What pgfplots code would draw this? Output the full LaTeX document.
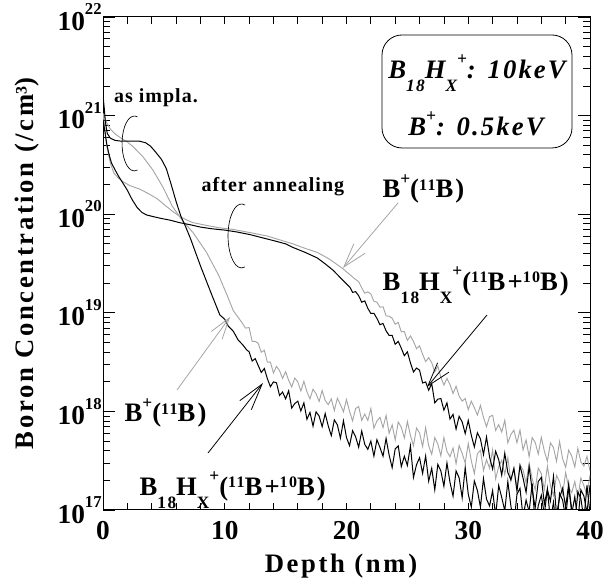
\documentclass[border=0pt]{standalone}
\usepackage{fontspec}
\setmainfont{Liberation Serif}
\newfontfamily\lsfont{Liberation Serif}[LetterSpace=8]
\newfontfamily\labfont{Liberation Serif}[LetterSpace=10]
\newfontfamily\anfont{Liberation Serif}[LetterSpace=5]
\usepackage{pgfplots}
\usepackage{pgfplotstable}
\pgfplotsset{compat=1.18}
\usetikzlibrary{arrows.meta}
\definecolor{lgray}{RGB}{165,165,165}
\newcommand{\supp}[1]{\raisebox{0.5em}{\fontsize{13}{13}\selectfont #1}}
\newcommand{\sups}[1]{\raisebox{0.28em}{\fontsize{12}{12}\selectfont #1}}
\newcommand{\subs}[1]{\raisebox{-0.5em}{\fontsize{13}{13}\selectfont #1}}
\newcommand{\tsup}[1]{\raisebox{0.56em}{\fontsize{12.5}{12.5}\selectfont #1}}

% B18Hx+, as implanted (black)
\pgfplotstableread[row sep=\\]{
x y\\
0 1.6e21\\ 0.1 1.2e21\\ 0.2 8.5e20\\ 0.35 6.6e20\\ 0.6 5.9e20\\ 1.0 5.6e20\\
1.5 5.5e20\\ 2.2 5.5e20\\ 3.0 5.5e20\\ 3.5 5.3e20\\ 3.9 4.9e20\\ 4.3 4.3e20\\
4.8 3.6e20\\ 5.2 2.9e20\\ 5.6 2.0e20\\ 6.0 1.35e20\\ 6.4 9.5e19\\ 6.8 7.4e19\\
7.2 5.6e19\\ 8.0 3.0e19\\ 9.0 1.45e19\\ 9.6 9.5e18\\ 10.0 8.6e18\\ 10.3 7.3e18\\
10.7 6.5e18\\ 11.1 5.3e18\\ 11.5 4.7e18\\ 11.8 4.2e18\\
12.00 4.03e18\\ 12.25 3.24e18\\ 12.50 3.43e18\\ 12.75 2.92e18\\ 13.00 2.48e18\\ 13.25 2.72e18\\
13.50 2.15e18\\ 13.75 1.78e18\\ 14.00 1.99e18\\ 14.25 1.95e18\\ 14.50 1.45e18\\ 14.75 1.57e18\\
15.00 1.34e18\\ 15.25 1.62e18\\ 15.50 1.08e18\\ 15.75 1.20e18\\ 16.00 1.27e18\\ 16.25 1.01e18\\
16.50 1.22e18\\ 16.75 8.32e17\\ 17.00 9.77e17\\ 17.25 7.08e17\\ 17.50 9.9e17\\ 17.75 8.97e17\\
18.00 7.0e17\\ 18.25 9.5e17\\ 18.50 7.13e17\\ 18.75 5.68e17\\ 19.00 8.2e17\\ 19.25 7.3e17\\
19.50 5.35e17\\ 19.75 8.04e17\\ 20.00 5.42e17\\ 20.25 4.49e17\\ 20.50 6.38e17\\ 20.75 5.52e17\\
21.00 4.33e17\\ 21.25 6.32e17\\ 21.50 4.63e17\\ 21.75 4.12e17\\ 22.00 5.0e17\\ 22.25 3.52e17\\
22.50 5.16e17\\ 22.75 4.3e17\\ 23.00 3.51e17\\ 23.25 5.32e17\\ 23.50 3.61e17\\ 23.75 2.69e17\\
24.00 4.17e17\\ 24.25 4.47e17\\ 24.50 2.75e17\\ 24.75 3.51e17\\ 25.00 2.83e17\\ 25.25 4.47e17\\
25.50 2.14e17\\ 25.75 2.88e17\\ 26.00 3.39e17\\ 26.25 2.35e17\\ 26.50 3.53e17\\ 26.75 1.96e17\\
27.00 2.65e17\\ 27.25 1.6e17\\ 27.50 2.9e17\\ 27.75 2.49e17\\ 28.00 1.74e17\\ 28.25 3.0e17\\
28.50 1.91e17\\ 28.75 1.38e17\\ 29.00 2.49e17\\ 29.25 2.12e17\\ 29.50 1.33e17\\ 29.75 2.69e17\\
30.00 1.45e17\\ 30.25 1.07e17\\ 30.50 1.97e17\\ 30.75 1.58e17\\ 31.00 1.07e17\\ 31.25 2.09e17\\
31.50 1.29e17\\ 31.75 1.1e17\\ 32.00 1.57e17\\ 32.25 0.88e17\\ 32.50 1.77e17\\ 32.75 1.34e17\\
33.00 0.98e17\\ 33.25 1.94e17\\ 33.50 1.1e17\\ 33.75 0.72e17\\ 34.00 1.44e17\\ 34.25 1.66e17\\
34.50 0.85e17\\ 34.75 1.26e17\\ 35.00 0.96e17\\ 35.25 1.86e17\\ 35.50 0.70e17\\ 35.75 1.11e17\\
36.00 1.41e17\\ 36.25 0.9e17\\ 36.50 1.64e17\\ 36.75 0.77e17\\ 37.00 1.2e17\\ 37.25 0.65e17\\
37.50 1.47e17\\ 37.75 1.26e17\\ 38.00 0.83e17\\ 38.25 1.69e17\\ 38.50 1.02e17\\ 38.75 0.71e17\\
39.00 1.53e17\\ 39.25 1.31e17\\ 39.50 0.79e17\\ 39.75 1.78e17\\ 40.00 0.92e17\\
}\bhimpl

% B+, as implanted (gray)
\pgfplotstableread[row sep=\\]{
x y\\
0 1.05e21\\ 0.3 8.5e20\\ 0.6 7.3e20\\ 1.0 6.5e20\\ 1.4 6.0e20\\ 2.0 5.4e20\\
2.5 4.8e20\\ 3.3 3.8e20\\ 4.1 2.8e20\\ 4.9 1.9e20\\ 5.7 1.2e20\\ 6.5 8.7e19\\
7.4 6.5e19\\ 8.5 4.1e19\\ 9.5 2.4e19\\ 10.2 1.5e19\\ 10.7 1.05e19\\ 11.4 8.0e18\\
11.7 7.0e18\\
12.00 7.08e18\\ 12.25 5.13e18\\ 12.50 5.13e18\\ 12.75 4.9e18\\ 13.00 3.98e18\\ 13.25 4.17e18\\
13.50 3.16e18\\ 13.75 3.16e18\\ 14.00 2.45e18\\ 14.25 2.86e18\\ 14.50 2.59e18\\ 14.75 2.16e18\\
15.00 2.53e18\\ 15.25 2.06e18\\ 15.50 1.77e18\\ 15.75 2.18e18\\ 16.00 1.99e18\\ 16.25 1.61e18\\
16.50 2.02e18\\ 16.75 1.58e18\\ 17.00 1.34e18\\ 17.25 1.68e18\\ 17.50 1.51e18\\ 17.75 1.26e18\\
18.00 1.63e18\\ 18.25 1.29e18\\ 18.50 1.17e18\\ 18.75 1.34e18\\ 19.00 1.02e18\\ 19.25 1.36e18\\
19.50 1.17e18\\ 19.75 9.9e17\\ 20.00 1.32e18\\ 20.25 1.0e18\\ 20.50 8.0e17\\ 20.75 1.07e18\\
21.00 1.12e18\\ 21.25 8.1e17\\ 21.50 9.4e17\\ 21.75 8.1e17\\ 22.00 1.07e18\\ 22.25 6.76e17\\
22.50 8.0e17\\ 22.75 8.7e17\\ 23.00 6.85e17\\ 23.25 9.1e17\\ 23.50 6.0e17\\ 23.75 7.3e17\\
24.00 5.13e17\\ 24.25 7.8e17\\ 24.50 6.93e17\\ 24.75 5.37e17\\ 25.00 7.9e17\\ 25.25 5.71e17\\
25.50 4.48e17\\ 25.75 6.78e17\\ 26.00 6.05e17\\ 26.25 4.39e17\\ 26.50 6.84e17\\ 26.75 4.48e17\\
27.00 3.66e17\\ 27.25 5.43e17\\ 27.50 4.66e17\\ 27.75 3.54e17\\ 28.00 5.42e17\\ 28.25 3.93e17\\
28.50 3.47e17\\ 28.75 4.26e17\\ 29.00 2.94e17\\ 29.25 4.51e17\\ 29.50 3.75e17\\ 29.75 2.99e17\\
30.00 4.73e17\\ 30.25 3.16e17\\ 30.50 2.34e17\\ 30.75 3.72e17\\ 31.00 4.03e17\\ 31.25 2.51e17\\
31.50 3.24e17\\ 31.75 2.66e17\\ 32.00 4.07e17\\ 32.25 2.07e17\\ 32.50 2.75e17\\ 32.75 3.2e17\\
33.00 2.29e17\\ 33.25 3.39e17\\ 33.50 1.97e17\\ 33.75 2.63e17\\ 34.00 1.7e17\\ 34.25 2.88e17\\
34.50 2.54e17\\ 34.75 1.88e17\\ 35.00 2.99e17\\ 35.25 2.07e17\\ 35.50 1.6e17\\ 35.75 2.66e17\\
36.00 2.34e17\\ 36.25 1.62e17\\ 36.50 2.79e17\\ 36.75 1.76e17\\ 37.00 1.4e17\\ 37.25 2.24e17\\
37.50 1.93e17\\ 37.75 1.45e17\\ 38.00 2.4e17\\ 38.25 1.68e17\\ 38.50 1.5e17\\ 38.75 1.95e17\\
39.00 1.32e17\\ 39.25 2.11e17\\ 39.50 1.76e17\\ 39.75 1.41e17\\ 40.00 2.26e17\\
}\bimpl

% B18Hx+, after annealing (black)
\pgfplotstableread[row sep=\\]{
x y\\
0 9.0e20\\ 0.15 7.0e20\\ 0.3 5.2e20\\ 0.5 4.0e20\\ 0.7 3.3e20\\ 1.0 2.8e20\\
1.3 2.4e20\\ 1.6 2.1e20\\ 2.0 1.75e20\\ 2.4 1.4e20\\ 2.8 1.17e20\\ 3.2 1.04e20\\
3.6 9.8e19\\ 4.2 9.4e19\\ 4.7 9.1e19\\ 5.5 8.7e19\\ 6.3 8.2e19\\ 7.2 7.8e19\\
8.0 7.4e19\\ 9.0 7.1e19\\ 10.0 6.9e19\\ 11.0 6.6e19\\ 12.1 6.2e19\\ 13.0 5.8e19\\
14.0 5.4e19\\ 15.0 5.0e19\\ 15.6 4.6e19\\ 16.6 4.1e19\\ 17.6 3.6e19\\ 18.3 3.1e19\\
18.9 2.7e19\\ 19.6 2.2e19\\ 20.3 1.8e19\\
20.50 1.61e19\\ 20.75 1.64e19\\ 21.00 1.49e19\\ 21.25 1.28e19\\ 21.50 1.32e19\\ 21.75 1.11e19\\
22.00 9.84e18\\ 22.25 9.89e18\\ 22.50 8.77e18\\ 22.75 7.57e18\\ 23.00 7.8e18\\ 23.25 6.56e18\\
23.50 5.89e18\\ 23.75 5.89e18\\ 24.00 4.79e18\\ 24.25 5.13e18\\ 24.50 4.37e18\\ 24.75 3.67e18\\
25.00 4.02e18\\ 25.25 3.11e18\\ 25.50 2.51e18\\ 25.75 2.75e18\\ 26.00 2.62e18\\ 26.25 1.94e18\\
26.50 1.99e18\\ 26.75 1.64e18\\ 27.00 1.91e18\\ 27.25 1.22e18\\ 27.50 1.33e18\\ 27.75 1.35e18\\
28.00 1.03e18\\ 28.25 1.22e18\\ 28.50 8.36e17\\ 28.75 9.33e17\\ 29.00 6.61e17\\ 29.25 8.91e17\\
29.50 7.82e17\\ 29.75 5.96e17\\ 30.00 8.09e17\\ 30.25 5.73e17\\ 30.50 4.36e17\\ 30.75 6.08e17\\
31.00 5.27e17\\ 31.25 3.65e17\\ 31.50 5.5e17\\ 31.75 3.45e17\\ 32.00 2.6e17\\ 32.25 3.94e17\\
32.50 3.24e17\\ 32.75 2.25e17\\ 33.00 3.77e17\\ 33.25 2.4e17\\ 33.50 2.02e17\\ 33.75 2.65e17\\
34.00 1.55e17\\ 34.25 2.82e17\\ 34.50 2.11e17\\ 34.75 1.51e17\\ 35.00 2.75e17\\ 35.25 1.6e17\\
35.50 1.06e17\\ 35.75 1.95e17\\ 36.00 2.14e17\\ 36.25 1.15e17\\ 36.50 1.6e17\\ 36.75 1.23e17\\
37.00 2.19e17\\ 37.25 0.89e17\\ 37.50 1.33e17\\ 37.75 1.66e17\\ 38.00 1.07e17\\ 38.25 1.84e17\\
38.50 0.91e17\\ 38.75 1.36e17\\ 39.00 0.78e17\\ 39.25 1.6e17\\ 39.50 1.38e17\\ 39.75 0.94e17\\
40.00 1.78e17\\
}\bhanneal

% B+, after annealing (gray)
\pgfplotstableread[row sep=\\]{
x y\\
0 1.05e21\\ 0.15 7.5e20\\ 0.3 5.0e20\\ 0.6 3.3e20\\ 0.9 2.6e20\\ 1.3 2.3e20\\
1.6 2.15e20\\ 2.2 1.95e20\\ 3.0 1.8e20\\ 3.8 1.6e20\\ 4.5 1.42e20\\ 5.2 1.2e20\\
5.8 1.05e20\\ 6.3 9.5e19\\ 6.9 8.7e19\\ 7.4 8.2e19\\ 8.5 7.7e19\\ 9.5 7.3e19\\
10.7 7.0e19\\ 12.1 6.5e19\\ 13.5 6.0e19\\ 14.5 5.5e19\\ 15.6 5.0e19\\ 16.6 4.5e19\\
17.6 4.1e19\\ 18.6 3.5e19\\ 19.7 2.8e19\\ 20.7 2.2e19\\
21.00 2.07e19\\ 21.25 1.79e19\\ 21.50 1.58e19\\ 21.75 1.63e19\\ 22.00 1.55e19\\ 22.25 1.31e19\\
22.50 1.28e19\\ 22.75 1.14e19\\ 23.00 1.15e19\\ 23.25 9.29e18\\ 23.50 9.23e18\\ 23.75 8.81e18\\
24.00 7.66e18\\ 24.25 7.98e18\\ 24.50 6.41e18\\ 24.75 6.46e18\\ 25.00 5.25e18\\ 25.25 5.82e18\\
25.50 5.13e18\\ 25.75 4.32e18\\ 26.00 4.62e18\\ 26.25 3.8e18\\ 26.50 3.2e18\\ 26.75 3.51e18\\
27.00 3.12e18\\ 27.25 2.51e18\\ 27.50 2.88e18\\ 27.75 2.22e18\\ 28.00 1.85e18\\ 28.25 2.16e18\\
28.50 1.87e18\\ 28.75 1.52e18\\ 29.00 1.8e18\\ 29.25 1.43e18\\ 29.50 1.27e18\\ 29.75 1.35e18\\
30.00 1.04e18\\ 30.25 1.27e18\\ 30.50 1.09e18\\ 30.75 9.2e17\\ 31.00 1.15e18\\ 31.25 8.7e17\\
31.50 7.0e17\\ 31.75 8.83e17\\ 32.00 9.12e17\\ 32.25 6.41e17\\ 32.50 7.33e17\\ 32.75 6.17e17\\
33.00 8.13e17\\ 33.25 4.8e17\\ 33.50 5.82e17\\ 33.75 6.46e17\\ 34.00 4.81e17\\ 34.25 6.47e17\\
34.50 4.06e17\\ 34.75 5.14e17\\ 35.00 3.47e17\\ 35.25 5.43e17\\ 35.50 4.83e17\\ 35.75 3.69e17\\
36.00 5.46e17\\ 36.25 3.95e17\\ 36.50 3.13e17\\ 36.75 4.8e17\\ 37.00 4.29e17\\ 37.25 3.12e17\\
37.50 4.95e17\\ 37.75 3.3e17\\ 38.00 2.71e17\\ 38.25 4.05e17\\ 38.50 3.53e17\\ 38.75 2.73e17\\
39.00 4.21e17\\ 39.25 3.08e17\\ 39.50 2.79e17\\ 39.75 3.5e17\\ 40.00 2.49e17\\
}\banneal

\begin{document}
\begin{tikzpicture}
\begin{axis}[
  scale only axis, width=365.25pt, height=369.75pt,
  xmin=0, xmax=40, ymode=log, ymin=1e17, ymax=1e22,
  clip mode=individual,
  axis line style={line width=0.75pt},
  xtick={0,10,20,30,40}, xticklabels={0,10,20,30,40},
  minor x tick num=4,
  ytick={1e17,1e18,1e19,1e20,1e21,1e22},
  yticklabels={10\tsup{17},10\tsup{18},10\tsup{19},10\tsup{20},10\tsup{21},10\tsup{22}},
  minor ytick={2e17,3e17,4e17,5e17,6e17,7e17,8e17,9e17,
    2e18,3e18,4e18,5e18,6e18,7e18,8e18,9e18,
    2e19,3e19,4e19,5e19,6e19,7e19,8e19,9e19,
    2e20,3e20,4e20,5e20,6e20,7e20,8e20,9e20,
    2e21,3e21,4e21,5e21,6e21,7e21,8e21,9e21},
  tick align=inside,
  xtick style={/pgfplots/major tick length=5.25pt,/pgfplots/minor tick length=5.25pt},
  ytick style={/pgfplots/major tick length=9pt,/pgfplots/minor tick length=5.25pt},
  every tick/.style={black, line width=0.6pt},
  ticklabel style={font=\bfseries\fontsize{20.5}{23}\selectfont},
  xticklabel style={yshift=-5pt},
  yticklabel style={xshift=2.5pt},
  no markers,
]
\addplot[lgray, line width=0.7pt] table {\bimpl};
\addplot[lgray, line width=0.7pt] table {\banneal};
\addplot[black, line width=0.75pt] table {\bhimpl};
\addplot[black, line width=0.75pt] table {\bhanneal};

\coordinate (SW) at (rel axis cs:0,0);
\coordinate (NE) at (rel axis cs:1,1);

% axis labels
\node[rotate=90, anchor=base, font=\labfont\bfseries\fontsize{20}{22}\selectfont]
  at (rel axis cs:-0.1417,0.5) {Boron Concentration (/cm\sups{3})};
\node[anchor=base, font=\labfont\bfseries\fontsize{20}{22}\selectfont]
  at (rel axis cs:0.4887,-0.1258) {Depth (nm)};

% brackets and group notes
\node[font=\anfont\bfseries\fontsize{15}{17}\selectfont] at (rel axis cs:0.1088,0.8357) {as impla.};
\draw[line width=0.5pt] (rel axis cs:0.0643,0.7434) ++(75:9.2pt and 20.6pt)
  arc[start angle=75, end angle=285, x radius=9.2pt, y radius=20.6pt];
\node[font=\anfont\bfseries\fontsize{15}{17}\selectfont] at (rel axis cs:0.349,0.6552) {after annealing};
\draw[line width=0.5pt] (rel axis cs:0.2844,0.5558) ++(75:10.1pt and 24pt)
  arc[start angle=75, end angle=285, x radius=10.1pt, y radius=24pt];

% energy box
\draw[line width=0.6pt, rounded corners=15pt] (rel axis cs:0.5729,0.9635) rectangle (rel axis cs:0.963,0.7343);
\node[anchor=base, font=\lsfont\bfseries\itshape\fontsize{20}{22}\selectfont]
  at (rel axis cs:0.768,0.876) {B\subs{18}H\subs{X}\supp{+}: 10keV};
\node[anchor=base, font=\lsfont\bfseries\itshape\fontsize{20}{22}\selectfont]
  at (rel axis cs:0.766,0.7606) {B\supp{+}: 0.5keV};

% curve labels and arrows
\node[anchor=base, font=\lsfont\bfseries\fontsize{20}{22}\selectfont]
  at (rel axis cs:0.658,0.633) {B\supp{+}(\sups{11}B)};
\draw[lgray, line width=0.6pt, -{Straight Barb[length=18pt,width=11pt]}]
  (rel axis cs:0.6057,0.6227) -- (rel axis cs:0.4928,0.4909);
\node[anchor=base west, font=\lsfont\bfseries\fontsize{20}{22}\selectfont]
  at (rel axis cs:0.5647,0.4462) {B\subs{18}H\subs{X}\supp{+}(\sups{11}B+\sups{10}B)};
\draw[black, line width=0.6pt, -{Straight Barb[length=18pt,width=11pt]}]
  (rel axis cs:0.7885,0.3955) -- (rel axis cs:0.6653,0.2495);
\node[anchor=base west, font=\lsfont\bfseries\fontsize{20}{22}\selectfont]
  at (rel axis cs:0.0349,0.1785) {B\supp{+}(\sups{11}B)};
\draw[lgray, line width=0.6pt, -{Straight Barb[length=16pt,width=10pt]}]
  (rel axis cs:0.152,0.2434) -- (rel axis cs:0.2608,0.3915);
\node[anchor=base west, font=\lsfont\bfseries\fontsize{20}{22}\selectfont]
  at (rel axis cs:0.0657,0.0304) {B\subs{18}H\subs{X}\supp{+}(\sups{11}B+\sups{10}B)};
\draw[black, line width=0.6pt, -{Straight Barb[length=20pt,width=11pt]}]
  (rel axis cs:0.2156,0.1156) -- (rel axis cs:0.3285,0.2576);
\end{axis}
\pgfresetboundingbox
\path ([shift={(-77.25pt,-54.75pt)}]SW) rectangle ([shift={(11.25pt,12.75pt)}]NE);
\end{tikzpicture}
\end{document}
